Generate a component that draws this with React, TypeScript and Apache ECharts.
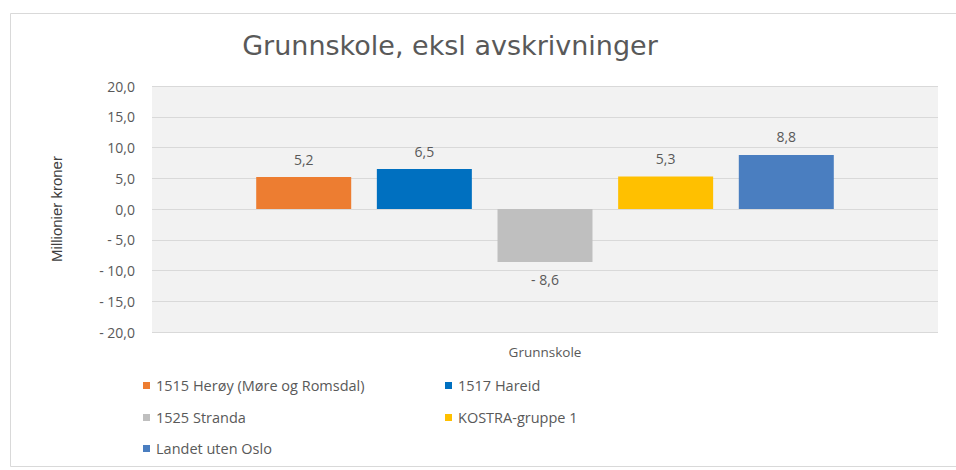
import React, { useEffect, useRef } from "react";
import * as echarts from "echarts";

const title = "Grunnskole, eksl avskrivninger";
const categories = ["Grunnskole"];
const seriesNames = [
  "1515 Herøy (Møre og Romsdal)",
  "1517 Hareid",
  "1525 Stranda",
  "KOSTRA-gruppe 1",
  "Landet uten Oslo",
];
const seriesValues = [5.2, 6.5, -8.6, 5.3, 8.8];
const seriesColors = ["#ED7D31", "#0070C0", "#BFBFBF", "#FFC000", "#4A7EC0"];
const yAxisName = "Millionier kroner";
const yMin = -20;
const yMax = 20;
const yInterval = 5;

const fmt = (v: number) =>
  (v < 0 ? "- " : "") + Math.abs(v).toFixed(1).replace(".", ",");

const legendPos = [
  { left: 143, top: 378 },
  { left: 445, top: 378 },
  { left: 143, top: 410 },
  { left: 445, top: 410 },
  { left: 143, top: 441 },
];

export default function App() {
  const ref = useRef<HTMLDivElement>(null);
  useEffect(() => {
    if (!ref.current) return;
    const chart = echarts.init(ref.current, null, { renderer: "svg" });
    const font = "'Open Sans', sans-serif";
    chart.setOption({
      animation: false,
      backgroundColor: "#ffffff",
      textStyle: { fontFamily: font },
      title: {
        text: title,
        left: 445,
        textAlign: "center",
        top: 27,
        textStyle: {
          fontFamily: "'DejaVu Sans', sans-serif",
          fontSize: 27,
          fontWeight: "normal",
          color: "#595959",
        },
      },
      graphic: [
        {
          type: "rect",
          shape: { x: 10.5, y: 13.5, width: 950, height: 453 },
          style: { fill: "none", stroke: "#d9d9d9", lineWidth: 1 },
          silent: true,
        },
      ],
      legend: seriesNames.map((n, i) => ({
        data: [n],
        left: legendPos[i].left,
        top: legendPos[i].top,
        icon: "rect",
        itemWidth: 7,
        itemHeight: 7,
        padding: 0,
        textStyle: { fontFamily: font, fontSize: 14.5, color: "#595959", padding: [0, 0, 0, 1] },
      })),
      grid: {
        left: 152,
        right: 18,
        top: 86,
        bottom: 138,
        show: true,
        backgroundColor: "#f2f2f2",
        borderWidth: 0,
      },
      xAxis: {
        type: "category",
        data: categories,
        axisLine: { show: false, onZero: false },
        axisTick: { show: false },
        axisLabel: { color: "#595959", fontSize: 13.5, margin: 13, fontFamily: font },
      },
      yAxis: {
        type: "value",
        min: yMin,
        max: yMax,
        interval: yInterval,
        name: yAxisName,
        nameLocation: "middle",
        nameRotate: 90,
        nameGap: 88,
        nameTextStyle: {
          fontFamily: "'Liberation Sans Narrow', 'Arial Narrow', sans-serif",
          fontSize: 15,
          color: "#404040",
        },
        axisLine: { show: false },
        axisTick: { show: false },
        axisLabel: {
          color: "#595959",
          fontSize: 14,
          margin: 17,
          fontFamily: font,
          formatter: (v: number) => fmt(v),
        },
        splitLine: { lineStyle: { color: "#d9d9d9", width: 1 } },
      },
      series: seriesNames.map((n, i) => ({
        name: n,
        type: "bar",
        data: [seriesValues[i]],
        barWidth: 95,
        barGap: "27%",
        itemStyle: { color: seriesColors[i] },
        label: {
          show: true,
          position: seriesValues[i] < 0 ? "bottom" : "top",
          distance: 11,
          color: "#595959",
          fontSize: 14,
          fontFamily: font,
          formatter: (p: any) => fmt(p.value),
        },
      })),
    });
    return () => chart.dispose();
  }, []);
  return (
    <div
      ref={ref}
      style={{ position: "fixed", left: 0, top: 0, width: 956, height: 470 }}
    />
  );
}
